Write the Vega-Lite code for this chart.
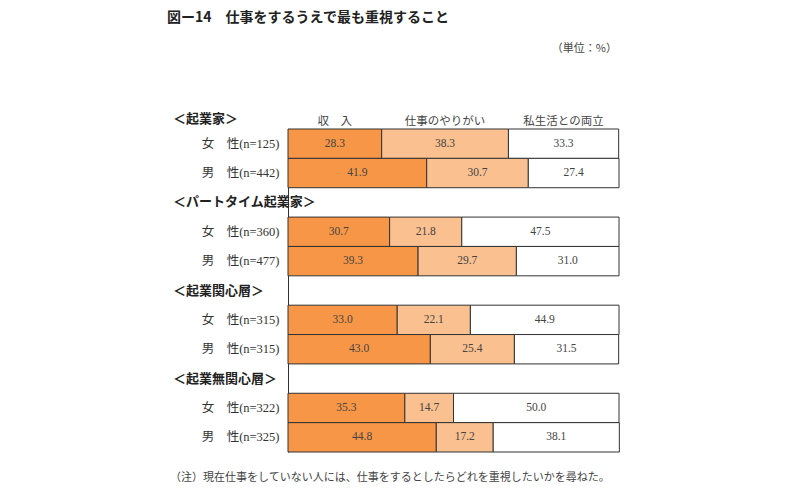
{
  "$schema": "https://vega.github.io/schema/vega-lite/v6.json",
  "width": 331,
  "height": 323,
  "autosize": {"type": "none"},
  "padding": {"left": 288, "top": 129, "right": 181, "bottom": 48},
  "background": "white",
  "view": {"stroke": null},
  "title": {
    "text": "図ー14　仕事をするうえで最も重視すること",
    "anchor": "start",
    "frame": "group",
    "dx": -121,
    "offset": 18,
    "font": "Noto Sans CJK JP",
    "fontSize": 14,
    "fontWeight": "bold",
    "color": "#222"
  },
  "data": {
    "values": [
      {"row": "女　性(n=125)", "cat": "収　入", "k": 1, "value": 28.3},
      {"row": "女　性(n=125)", "cat": "仕事のやりがい", "k": 2, "value": 38.3},
      {"row": "女　性(n=125)", "cat": "私生活との両立", "k": 3, "value": 33.3},
      {"row": "男　性(n=442)", "cat": "収　入", "k": 1, "value": 41.9},
      {"row": "男　性(n=442)", "cat": "仕事のやりがい", "k": 2, "value": 30.7},
      {"row": "男　性(n=442)", "cat": "私生活との両立", "k": 3, "value": 27.4},
      {"row": "女　性(n=360)", "cat": "収　入", "k": 1, "value": 30.7},
      {"row": "女　性(n=360)", "cat": "仕事のやりがい", "k": 2, "value": 21.8},
      {"row": "女　性(n=360)", "cat": "私生活との両立", "k": 3, "value": 47.5},
      {"row": "男　性(n=477)", "cat": "収　入", "k": 1, "value": 39.3},
      {"row": "男　性(n=477)", "cat": "仕事のやりがい", "k": 2, "value": 29.7},
      {"row": "男　性(n=477)", "cat": "私生活との両立", "k": 3, "value": 31.0},
      {"row": "女　性(n=315)", "cat": "収　入", "k": 1, "value": 33.0},
      {"row": "女　性(n=315)", "cat": "仕事のやりがい", "k": 2, "value": 22.1},
      {"row": "女　性(n=315)", "cat": "私生活との両立", "k": 3, "value": 44.9},
      {"row": "男　性(n=315)", "cat": "収　入", "k": 1, "value": 43.0},
      {"row": "男　性(n=315)", "cat": "仕事のやりがい", "k": 2, "value": 25.4},
      {"row": "男　性(n=315)", "cat": "私生活との両立", "k": 3, "value": 31.5},
      {"row": "女　性(n=322)", "cat": "収　入", "k": 1, "value": 35.3},
      {"row": "女　性(n=322)", "cat": "仕事のやりがい", "k": 2, "value": 14.7},
      {"row": "女　性(n=322)", "cat": "私生活との両立", "k": 3, "value": 50.0},
      {"row": "男　性(n=325)", "cat": "収　入", "k": 1, "value": 44.8},
      {"row": "男　性(n=325)", "cat": "仕事のやりがい", "k": 2, "value": 17.2},
      {"row": "男　性(n=325)", "cat": "私生活との両立", "k": 3, "value": 38.1}
    ]
  },
  "encoding": {
    "y": {
      "field": "row",
      "type": "nominal",
      "sort": null,
      "scale": {
        "type": "band",
        "domain": ["女　性(n=125)", "男　性(n=442)", "＜パートタイム起業家＞", "女　性(n=360)", "男　性(n=477)", "＜起業関心層＞", "女　性(n=315)", "男　性(n=315)", "＜起業無関心層＞", "女　性(n=322)", "男　性(n=325)"],
        "paddingInner": 0,
        "paddingOuter": 0
      },
      "axis": {
        "title": null,
        "domain": true,
        "domainColor": "#333",
        "domainWidth": 1,
        "ticks": false,
        "tickSize": 0,
        "grid": false,
        "labelPadding": 9,
        "labelFont": "Liberation Serif, Noto Sans CJK JP",
        "labelFontSize": 12.5,
        "labelColor": "#333",
        "labelExpr": "indexof(datum.value, '＜') == 0 ? '' : datum.value"
      }
    }
  },
  "layer": [
    {
      "mark": {"type": "bar", "stroke": "#333", "strokeWidth": 1},
      "encoding": {
        "x": {"field": "value", "type": "quantitative", "stack": "zero", "scale": {"domain": [0, 100], "nice": false}, "axis": null},
        "order": {"field": "k"},
        "color": {
          "field": "cat",
          "type": "nominal",
          "scale": {"domain": ["収　入", "仕事のやりがい", "私生活との両立"], "range": ["#F79646", "#FAC08F", "#FFFFFF"]},
          "legend": null
        }
      }
    },
    {
      "transform": [
        {"stack": "value", "groupby": ["row"], "sort": [{"field": "k"}], "as": ["s0", "s1"]},
        {"fold": ["s0", "s1"], "as": ["edge", "pos"]},
        {"aggregate": [{"op": "mean", "field": "pos", "as": "mid"}], "groupby": ["row", "cat", "k", "value"]}
      ],
      "layer": [
        {
          "mark": {"type": "text", "font": "Liberation Serif", "fontSize": 11.5, "color": "#444", "baseline": "middle"},
          "encoding": {
            "x": {"field": "mid", "type": "quantitative"},
            "text": {"field": "value", "type": "quantitative", "format": ".1f"}
          }
        },
        {
          "transform": [{"filter": "datum.row == '女　性(n=125)'"}],
          "mark": {"type": "text", "font": "Liberation Serif, Noto Sans CJK JP", "fontSize": 11.5, "color": "#444", "baseline": "middle", "dy": -22},
          "encoding": {
            "x": {"field": "mid", "type": "quantitative"},
            "text": {"field": "cat"}
          }
        }
      ]
    },
    {
      "data": {"values": [{"h": "＜パートタイム起業家＞"}, {"h": "＜起業関心層＞"}, {"h": "＜起業無関心層＞"}]},
      "mark": {"type": "text", "align": "left", "baseline": "middle", "dx": -115, "font": "Noto Sans CJK JP", "fontSize": 13, "fontWeight": "bold", "color": "#222"},
      "encoding": {
        "x": {"datum": 0, "type": "quantitative"},
        "y": {"field": "h"},
        "text": {"field": "h"}
      }
    },
    {
      "data": {"values": [{"h": "＜起業家＞", "r": "女　性(n=125)"}]},
      "mark": {"type": "text", "align": "left", "baseline": "middle", "dx": -115, "dy": -25, "font": "Noto Sans CJK JP", "fontSize": 13, "fontWeight": "bold", "color": "#222"},
      "encoding": {
        "x": {"datum": 0, "type": "quantitative"},
        "y": {"field": "r"},
        "text": {"field": "h"}
      }
    },
    {
      "data": {"values": [{"t": "（単位：%）", "r": "女　性(n=125)"}]},
      "mark": {"type": "text", "align": "right", "baseline": "middle", "dx": -2, "dy": -95, "font": "Noto Sans CJK JP", "fontSize": 11, "color": "#444"},
      "encoding": {
        "x": {"datum": 100, "type": "quantitative"},
        "y": {"field": "r"},
        "text": {"field": "t"}
      }
    },
    {
      "data": {"values": [{"t": "（注）現在仕事をしていない人には、仕事をするとしたらどれを重視したいかを尋ねた。", "r": "男　性(n=325)"}]},
      "mark": {"type": "text", "align": "left", "baseline": "middle", "dx": -118, "dy": 41, "font": "Noto Sans CJK JP", "fontSize": 11, "color": "#444"},
      "encoding": {
        "x": {"datum": 0, "type": "quantitative"},
        "y": {"field": "r"},
        "text": {"field": "t"}
      }
    }
  ]
}
